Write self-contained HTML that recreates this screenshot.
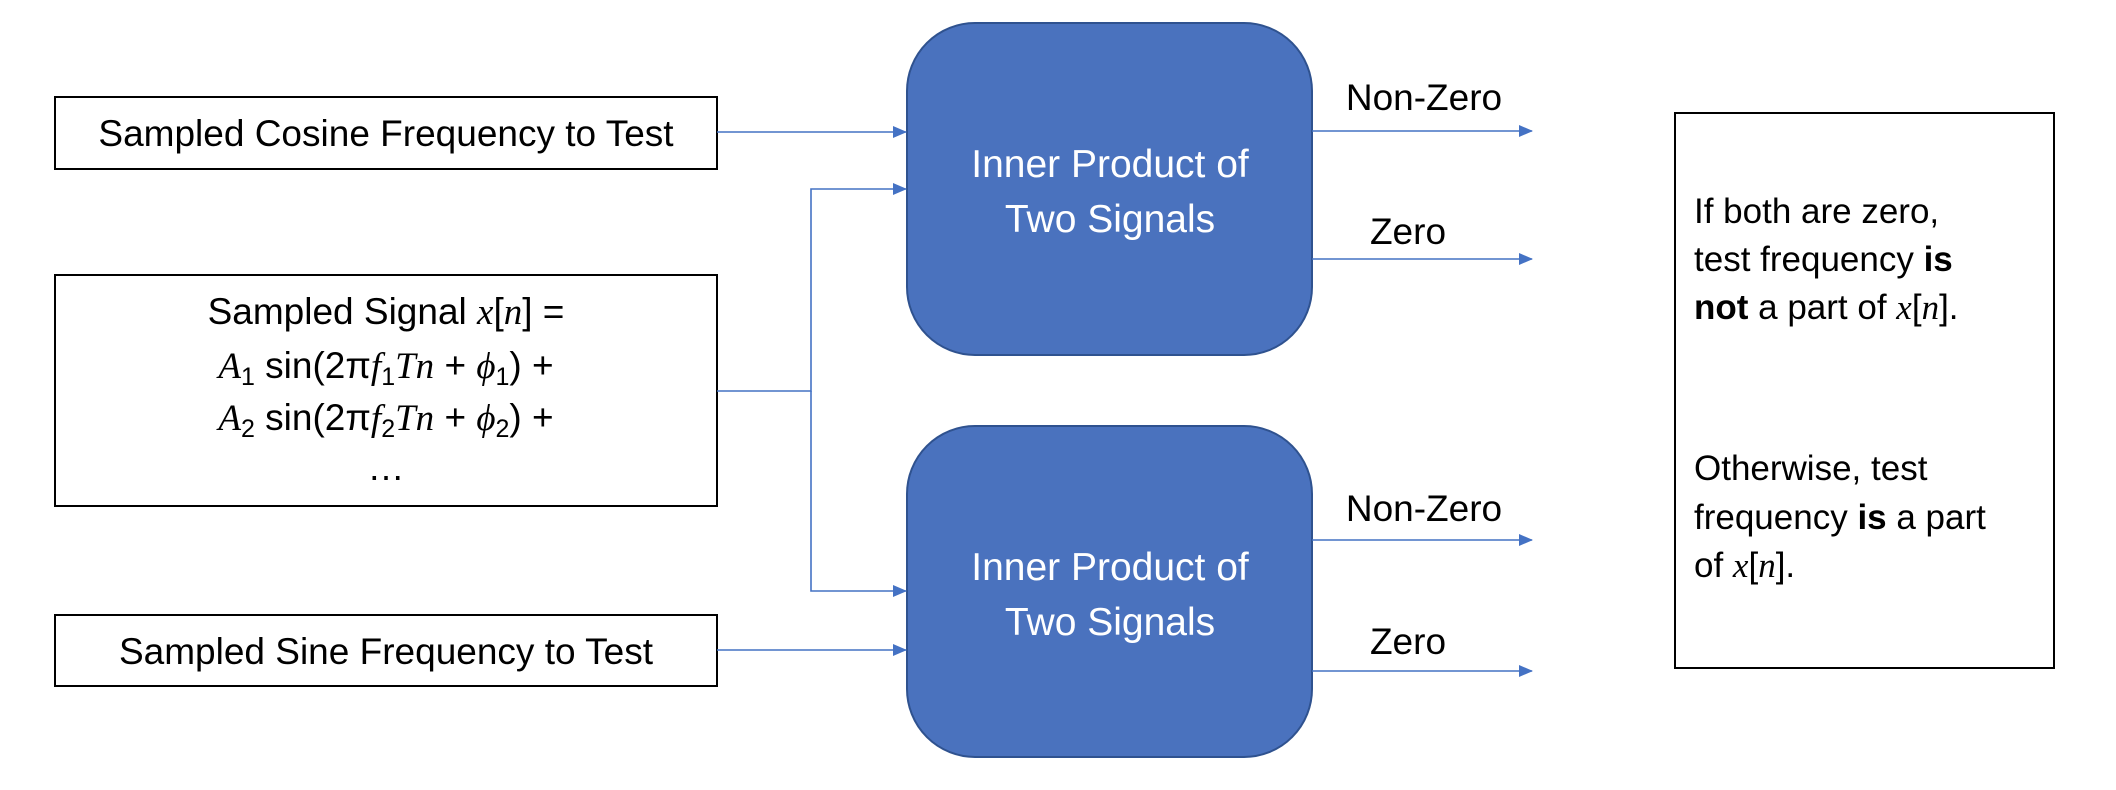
<!DOCTYPE html>
<html><head><meta charset="utf-8"><style>
html,body{margin:0;padding:0;background:#fff;}
svg{display:block;}
text{font-family:"Liberation Sans",sans-serif;}
.m{font-family:"Liberation Serif",serif;font-style:italic;}
</style></head><body>
<svg width="2116" height="790" viewBox="0 0 2116 790" xmlns="http://www.w3.org/2000/svg">
<defs><marker id="a" markerWidth="14" markerHeight="14" refX="13" refY="7" orient="auto" markerUnits="userSpaceOnUse"><path d="M0,1 L14,7 L0,13 z" fill="#4472c4"/></marker></defs>
<g fill="none" stroke="#000" stroke-width="2">
<rect x="55" y="97" width="662" height="72"/>
<rect x="55" y="275" width="662" height="231"/>
<rect x="55" y="615" width="662" height="71"/>
<rect x="1675" y="113" width="379" height="555"/>
</g>
<g fill="#4a72be" stroke="#2f528f" stroke-width="2">
<rect x="907" y="23" width="405" height="332" rx="68"/>
<rect x="907" y="426" width="405" height="331" rx="68"/>
</g>
<g stroke="#4472c4" stroke-width="1.6" fill="none" marker-end="url(#a)">
<line x1="717" y1="132" x2="906" y2="132"/>
<polyline points="717,391 811,391 811,189 906,189"/>
<polyline points="811,391 811,591 906,591"/>
<line x1="717" y1="650" x2="906" y2="650"/>
<line x1="1312" y1="131" x2="1532" y2="131"/>
<line x1="1312" y1="259" x2="1532" y2="259"/>
<line x1="1312" y1="540" x2="1532" y2="540"/>
<line x1="1312" y1="671" x2="1532" y2="671"/>
</g>
<g font-size="37" text-anchor="middle" fill="#000">
<text x="386" y="146">Sampled Cosine Frequency to Test</text>
<text x="386" y="664">Sampled Sine Frequency to Test</text>
<text x="386" y="324">Sampled Signal <tspan class="m">x</tspan>[<tspan class="m">n</tspan>] =</text>
<text x="386" y="378"><tspan class="m">A</tspan><tspan font-size="25" dy="7">1</tspan><tspan dy="-7"> sin(2π</tspan><tspan class="m">f</tspan><tspan font-size="25" dy="7">1</tspan><tspan dy="-7" class="m">Tn</tspan> +  <tspan class="m">ϕ</tspan><tspan font-size="25" dy="7">1</tspan><tspan dy="-7">) +</tspan></text>
<text x="386" y="430"><tspan class="m">A</tspan><tspan font-size="25" dy="7">2</tspan><tspan dy="-7"> sin(2π</tspan><tspan class="m">f</tspan><tspan font-size="25" dy="7">2</tspan><tspan dy="-7" class="m">Tn</tspan> +  <tspan class="m">ϕ</tspan><tspan font-size="25" dy="7">2</tspan><tspan dy="-7">) +</tspan></text>
<text x="386" y="480">…</text>
<g fill="#fff" font-size="39">
<text x="1110" y="177">Inner Product of</text>
<text x="1110" y="232">Two Signals</text>
<text x="1110" y="580">Inner Product of</text>
<text x="1110" y="635">Two Signals</text>
</g>
<text x="1424" y="110">Non-Zero</text>
<text x="1408" y="244">Zero</text>
<text x="1424" y="521">Non-Zero</text>
<text x="1408" y="654">Zero</text>
</g>
<g font-size="35" fill="#000">
<text x="1694" y="223">If both are zero,</text>
<text x="1694" y="271">test frequency <tspan font-weight="bold">is</tspan></text>
<text x="1694" y="319"><tspan font-weight="bold">not</tspan> a part of <tspan class="m">x</tspan>[<tspan class="m">n</tspan>].</text>
<text x="1694" y="480">Otherwise, test</text>
<text x="1694" y="529">frequency <tspan font-weight="bold">is</tspan> a part</text>
<text x="1694" y="577">of <tspan class="m">x</tspan>[<tspan class="m">n</tspan>].</text>
</g>
</svg>
</body></html>
